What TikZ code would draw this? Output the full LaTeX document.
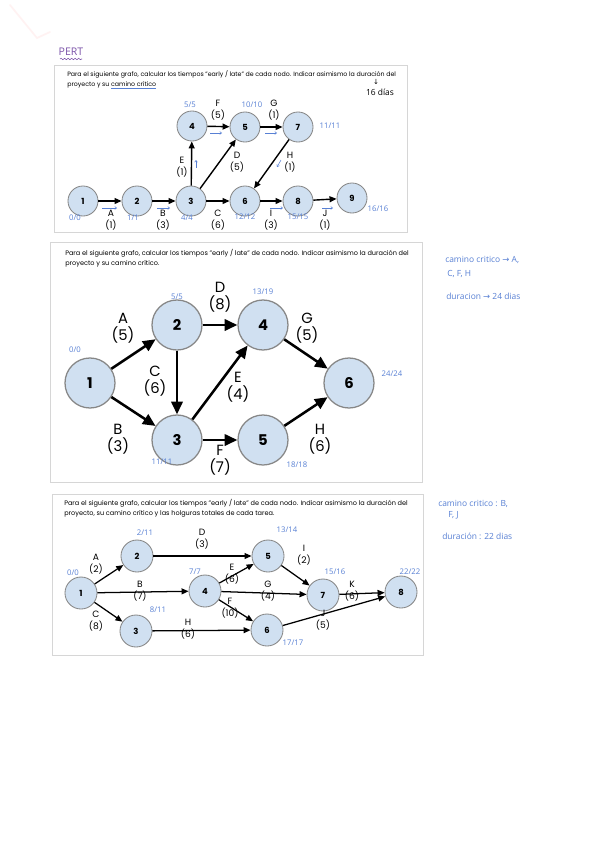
\documentclass[tikz,border=0pt]{standalone}
\usepackage{fontspec}
\setmainfont{Poppins}
\newfontfamily\hand{Open Sans}
\newfontfamily\sym{DejaVu Sans}
\usetikzlibrary{arrows.meta,decorations.pathmorphing}
\definecolor{nodefill}{RGB}{208,224,241}
\definecolor{nodeline}{RGB}{135,135,135}
\definecolor{ink}{RGB}{88,128,212}
\definecolor{framegray}{RGB}{214,214,214}
\definecolor{pertink}{RGB}{125,85,170}
\newsavebox\ulbox
\newcommand\inkline[1]{\sbox\ulbox{#1}\rlap{\color{ink}\rule[-1.3pt]{\wd\ulbox}{0.3pt}}#1}

\begin{document}
\begin{tikzpicture}[x=0.025cm, y=-0.025cm,
    frame/.style={draw=framegray, line width=0.6pt},
    head/.style={anchor=north west, align=left, inner sep=0pt, font=\fontsize{4.65}{7.5}\selectfont},
    evA/.style={circle, draw=nodeline, fill=nodefill, inner sep=0pt, minimum size=0.75cm, line width=0.6pt, font=\fontsize{6}{6}\selectfont\bfseries},
    evB/.style={circle, draw=nodeline, fill=nodefill, inner sep=0pt, minimum size=1.25cm, line width=0.9pt, font=\fontsize{10.5}{10.5}\selectfont\bfseries},
    evC/.style={circle, draw=nodeline, fill=nodefill, inner sep=0pt, minimum size=0.8cm, line width=0.6pt, font=\fontsize{6}{6}\selectfont\bfseries},
    taskA/.style={align=center, inner sep=0pt, font=\fontsize{6.5}{8.5}\selectfont},
    taskB/.style={align=center, inner sep=0pt, font=\fontsize{10.5}{12}\selectfont},
    taskC/.style={align=center, inner sep=0pt, font=\fontsize{6.5}{8.5}\selectfont},
    time/.style={text=ink, inner sep=0pt, font=\hand\fontsize{5.5}{6}\selectfont},
    note/.style={text=ink, anchor=west, inner sep=0pt, font=\hand\fontsize{6}{6}\selectfont},
    actA/.style={-{Triangle[length=5pt,width=4.2pt]}, line width=1pt},
    actB/.style={-{Triangle[length=9pt,width=8pt]}, line width=1.8pt},
    actC/.style={-{Triangle[length=5pt,width=4.2pt]}, line width=0.9pt},
    tick/.style={draw=ink, line width=0.4pt, -{Straight Barb[length=1.3pt,width=2pt]}},
  ]
  \fill[white] (0,0) rectangle (600,848);
  \draw[pink!20, line width=1.2pt, line cap=round] (10,5) -- (37,38) -- (50,32);

  \node[text=pertink, inner sep=0pt, font=\hand\fontsize{7.5}{8}\selectfont] (pert) at (71,52) {PERT};
  \draw[pertink, line width=0.4pt, decorate, decoration={snake, amplitude=0.5pt, segment length=2.5pt}] (60,59) -- (82,59);

  % primer grafo
  \draw[frame] (54,65) rectangle (407,232);
  \node[head, font=\fontsize{4.45}{7.5}\selectfont] (h1) at (67,70) {Para el siguiente grafo, calcular los tiempos "early / late" de cada nodo. Indicar asimismo la duración del\\proyecto y su \inkline{camino crítico}};
  \node[inner sep=0pt, font=\sym\fontsize{5}{5}\selectfont] (dn) at (376,82) {↓};
  \node[inner sep=0pt, font=\hand\fontsize{6}{6}\selectfont] (dur1) at (380,92) {16 días};

  \node[evA] (a1) at (83,201) {1};
  \node[evA] (a2) at (137,201) {2};
  \node[evA] (a3) at (191,201) {3};
  \node[evA] (a6) at (245,201) {6};
  \node[evA] (a8) at (298,201) {8};
  \node[evA] (a9) at (352,198) {9};
  \node[evA] (a4) at (192,126) {4};
  \node[evA] (a5) at (245,127) {5};
  \node[evA] (a7) at (298,127) {7};

  \draw[actA] (a1) -- (a2);
  \draw[actA] (a2) -- (a3);
  \draw[actA] (a3) -- (a6);
  \draw[actA] (a6) -- (a8);
  \draw[actA] (a8) -- (a9);
  \draw[actA] (a3) -- (a4);
  \draw[actA] (a4) -- (a5);
  \draw[actA] (a5) -- (a7);
  \draw[actA] (a3) -- (a5);
  \draw[actA] (a7) -- (a6);

  \node[taskA] (tA1) at (111,220) {A\\(1)};
  \node[taskA] (tB1) at (163,220) {B\\(3)};
  \node[taskA] (tC1) at (218,220) {C\\(6)};
  \node[taskA] (tI1) at (271,220) {I\\(3)};
  \node[taskA] (tJ1) at (325,220) {J\\(1)};
  \node[taskA] (tE1) at (182,167) {E\\(1)};
  \node[taskA] (tD1) at (237,162) {D\\(5)};
  \node[taskA] (tH1) at (290,162) {H\\(1)};
  \node[taskA] (tF1) at (218,110) {F\\(5)};
  \node[taskA] (tG1) at (274,110) {G\\(1)};

  \node[time] (e1) at (75,218) {0/0};
  \node[time] (e2) at (133,218) {1/1};
  \node[time] (e3) at (187,218) {4/4};
  \node[time] (e6) at (245,217) {12/12};
  \node[time] (e8) at (298,217) {15/15};
  \node[time] (e9) at (378,209) {16/16};
  \node[time] (e4) at (190,105) {5/5};
  \node[time] (e5) at (252,105) {10/10};
  \node[time] (e7) at (330,126) {11/11};

  \draw[tick] (102,208) -- (117,208);
  \draw[tick] (157,208) -- (170,208);
  \draw[tick] (270,208) -- (283,208);
  \draw[tick] (322,208) -- (333,208);
  \draw[tick] (210,133) -- (222,133);
  \draw[tick] (265,133) -- (277,133);
  \draw[tick] (196,168) -- (196,160);
  \draw[tick] (281,160) -- (277,167);

  % segundo grafo
  \draw[frame] (50,242) rectangle (422,482);
  \node[head] (h2) at (65,249) {Para el siguiente grafo, calcular los tiempos "early / late" de cada nodo. Indicar asimismo la duración del\\proyecto y su camino crítico.};

  \node[evB] (b1) at (90,383) {1};
  \node[evB] (b2) at (177,325) {2};
  \node[evB] (b3) at (177,440) {3};
  \node[evB] (b4) at (263,325) {4};
  \node[evB] (b5) at (263,440) {5};
  \node[evB] (b6) at (349,383) {6};

  \draw[actB] (b1) -- (b2);
  \draw[actB] (b1) -- (b3);
  \draw[actB] (b2) -- (b3);
  \draw[actB] (b2) -- (b4);
  \draw[actB] (b3) -- (b4);
  \draw[actB] (b3) -- (b5);
  \draw[actB] (b4) -- (b6);
  \draw[actB] (b5) -- (b6);

  \node[taskB] (tA2) at (123,328) {A\\(5)};
  \node[taskB] (tD2) at (220,297) {D\\(8)};
  \node[taskB] (tG2) at (307,328) {G\\(5)};
  \node[taskB] (tC2) at (155,381) {C\\(6)};
  \node[taskB] (tE2) at (238,387) {E\\(4)};
  \node[taskB] (tB2) at (118,439) {B\\(3)};
  \node[taskB] (tF2) at (220,460) {F\\(7)};
  \node[taskB] (tH2) at (320,439) {H\\(6)};

  \node[time] (l1) at (75,350) {0/0};
  \node[time] (l2) at (177,297) {5/5};
  \node[time] (l4) at (263,292) {13/19};
  \node[time] (l6) at (392,374) {24/24};
  \node[time] (l3) at (162,462) {11/11};
  \node[time] (l5) at (297,465) {18/18};

  \node[note] (cc2) at (445,260) {camino critico {\sym→} A,};
  \node[note] (cc2b) at (447,274) {C, F, H};
  \node[note] (du2) at (446,296) {duracion {\sym→} 24 dias};

  % tercer grafo
  \draw[frame] (52,494) rectangle (423,655);
  \node[head] (h3) at (64,499) {Para el siguiente grafo, calcular los tiempos "early / late" de cada nodo. Indicar asimismo la duración del\\proyecto, su camino crítico y las holguras totales de cada tarea.};

  \node[evC] (c1) at (81,593) {1};
  \node[evC] (c2) at (137,556) {2};
  \node[evC] (c3) at (136,631) {3};
  \node[evC] (c4) at (205,591) {4};
  \node[evC] (c5) at (268,556) {5};
  \node[evC] (c6) at (267,630) {6};
  \node[evC] (c7) at (323,595) {7};
  \node[evC] (c8) at (401,592) {8};

  \draw[actC] (c1) -- (c2);
  \draw[actC] (c1) -- (c4);
  \draw[actC] (c1) -- (c3);
  \draw[actC] (c2) -- (c5);
  \draw[actC] (c4) -- (c5);
  \draw[actC] (c4) -- (c7);
  \draw[actC] (c4) -- (c6);
  \draw[actC] (c5) -- (c7);
  \draw[actC] (c3) -- (c6);
  \draw[actC] (c7) -- (c8);
  \draw[actC] (c6) -- (c8);

  \node[taskC] (tA3) at (96,564) {A\\(2)};
  \node[taskC] (tD3) at (202,539) {D\\(3)};
  \node[taskC] (tI3) at (304,555) {I\\(2)};
  \node[taskC] (tE3) at (232,574) {E\\(6)};
  \node[taskC] (tB3) at (140,591) {B\\(7)};
  \node[taskC] (tG3) at (268,591) {G\\(4)};
  \node[taskC] (tK3) at (352,591) {K\\(6)};
  \node[taskC] (tF3) at (230,608) {F\\(10)};
  \node[taskC] (tC3) at (96,621) {C\\(8)};
  \node[taskC] (tH3) at (188,629) {H\\(6)};
  \node[taskC] (tJ3) at (323,620) {J\\(5)};

  \node[time] (k1) at (73,573) {0/0};
  \node[time] (k2) at (145,533) {2/11};
  \node[time] (k5) at (287,530) {13/14};
  \node[time] (k4) at (195,572) {7/7};
  \node[time] (k7) at (335,572) {15/16};
  \node[time] (k8) at (410,572) {22/22};
  \node[time] (k3) at (158,610) {8/11};
  \node[time] (k6) at (293,643) {17/17};

  \node[note] (cc3) at (438,504) {camino critico : B,};
  \node[note] (cc3b) at (448,515) {F, J};
  \node[note] (du3) at (442,536) {duración : 22 dias};
\end{tikzpicture}
\end{document}
